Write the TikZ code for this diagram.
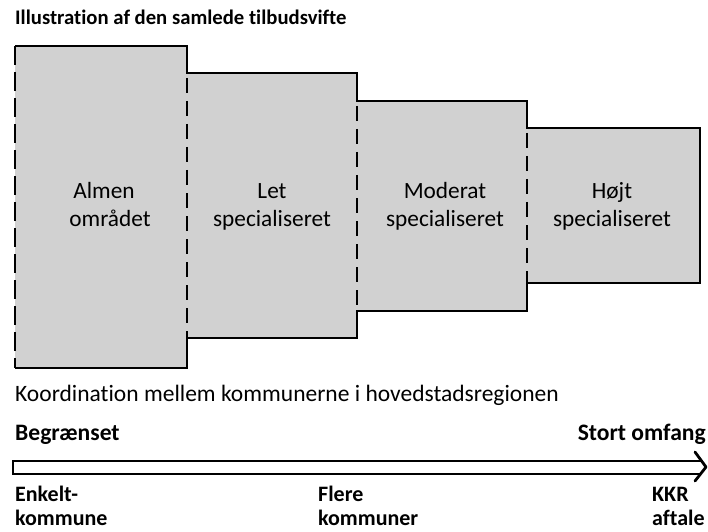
\documentclass[tikz,border=0pt]{standalone}
\usepackage{fontspec}
\setmainfont{Carlito}[Ligatures={CommonOff}]
\begin{document}
\begin{tikzpicture}[x=1bp,y=-1bp,
  boxfill/.style={fill=black!18, draw=none},
  outline/.style={line width=2.8bp, line join=miter},
  dashededge/.style={line width=2.8bp, dash pattern=on 15bp off 8bp},
  leftedge/.style={line width=2.8bp, dash pattern=on 19bp off 7bp},
  boxlabel/.style={anchor=base, inner sep=0pt, font=\fontsize{23.3bp}{28bp}\selectfont},
  boldlabel/.style={anchor=base west, inner sep=0pt, font=\bfseries\fontsize{22bp}{26bp}\selectfont},
  boldhead/.style={anchor=base west, inner sep=0pt, font=\bfseries\fontsize{23.6bp}{28bp}\selectfont},
  plainlabel/.style={anchor=base west, inner sep=0pt, font=\fontsize{23.5bp}{28bp}\selectfont},
  titlelabel/.style={anchor=base west, inner sep=0pt, font=\bfseries\fontsize{20.7bp}{25bp}\selectfont},
  arrowline/.style={line width=2.3bp},
  arrowhead/.style={line width=2.8bp, line join=round, line cap=round}
]
\useasboundingbox (0,0) rectangle (708,532);

% box corners
\coordinate (a1) at (15,46);   \coordinate (a2) at (187,368);
\coordinate (b1) at (187,73);  \coordinate (b2) at (357,338);
\coordinate (c1) at (357,101); \coordinate (c2) at (527,311);
\coordinate (d1) at (527,128); \coordinate (d2) at (700,283);

% fills
\fill[boxfill] (a1) rectangle (a2);
\fill[boxfill] (b1) rectangle (b2);
\fill[boxfill] (c1) rectangle (c2);
\fill[boxfill] (d1) rectangle (d2);

% solid outline
\draw[outline] (15,46) -- (187,46) -- (187,73) -- (357,73) -- (357,101)
  -- (527,101) -- (527,128) -- (700,128) -- (700,283) -- (527,283)
  -- (527,311) -- (357,311) -- (357,338) -- (187,338) -- (187,368) -- (15,368);

% dashed edges
\draw[leftedge] (15,46) -- (15,368);
\draw[dashededge] (187,78) -- (187,338);
\draw[dashededge] (357,106) -- (357,311);
\draw[dashededge] (527,133) -- (527,283);

% title
\node[titlelabel] (title) at (15,25) {Illustration af den samlede tilbudsvifte};

% box labels
\node[boxlabel] (l1a) at (104,199) {Almen};
\node[boxlabel] (l1b) at (110,227) {området};
\node[boxlabel] (l2a) at (272,199) {Let};
\node[boxlabel] (l2b) at (272,227) {specialiseret};
\node[boxlabel] (l3a) at (445,199) {Moderat};
\node[boxlabel] (l3b) at (445,227) {specialiseret};
\node[boxlabel] (l4a) at (612,199) {Højt};
\node[boxlabel] (l4b) at (612,227) {specialiseret};

% coordination text
\node[plainlabel] (koord) at (15,401) {Koordination mellem kommunerne i hovedstadsregionen};
\node[boldhead] (begr) at (15,440) {Begrænset};
\node[boldhead, anchor=base east] (stort) at (706,440) {Stort omfang};

% arrow
\coordinate (as1) at (13,461);
\coordinate (as2) at (13,474);
\coordinate (ae1) at (701,461);
\coordinate (ae2) at (701,474);
\coordinate (ht) at (695,452);
\coordinate (tip) at (706,467);
\coordinate (hb) at (695,481);
\draw[arrowline] (ae1) -- (as1) -- (as2) -- (ae2);
\draw[arrowhead] (ht) -- (tip) -- (hb);

% bottom labels
\node[boldlabel] (e1) at (15,501) {Enkelt-};
\node[boldlabel] (e2) at (15,525) {kommune};
\node[boldlabel] (f1) at (318,501) {Flere};
\node[boldlabel] (f2) at (318,525) {kommuner};
\node[boldlabel] (k1) at (652,501) {KKR};
\node[boldlabel] (k2) at (652,525) {aftale};
\end{tikzpicture}
\end{document}
